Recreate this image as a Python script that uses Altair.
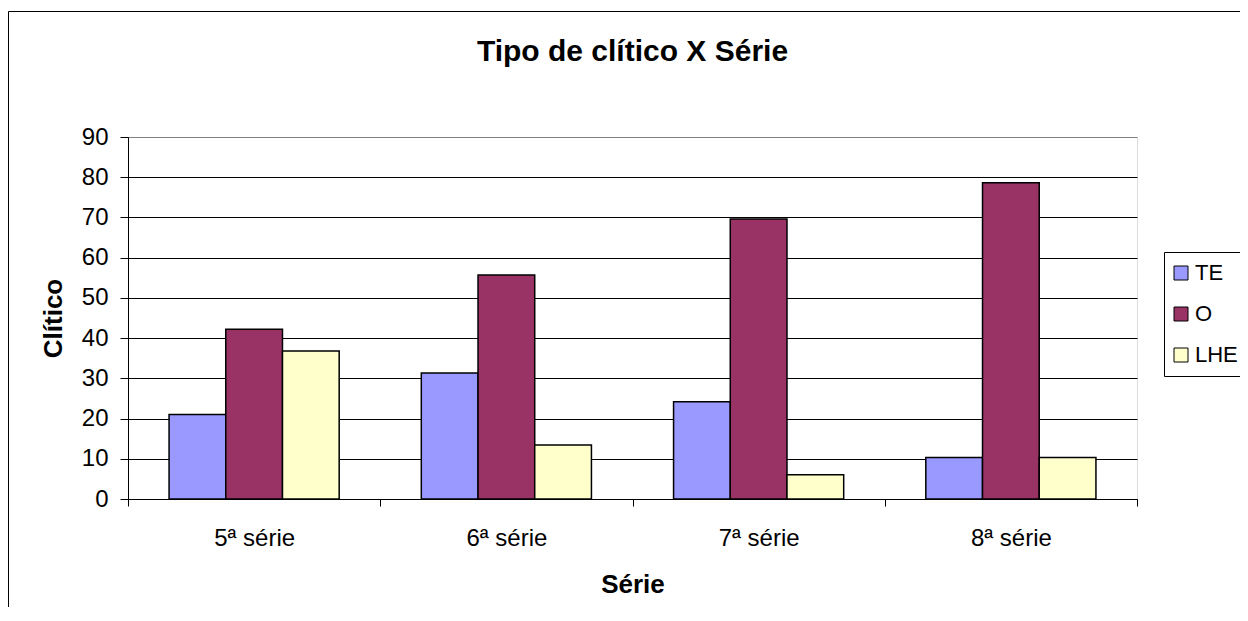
import altair as alt
import pandas as pd

categories = ["5ª série", "6ª série", "7ª série", "8ª série"]
series = ["TE", "O", "LHE"]
te_values = [21.0, 31.3, 24.2, 10.3]
o_values = [42.2, 55.7, 69.6, 78.6]
lhe_values = [36.8, 13.4, 6.0, 10.3]
colors = ["#9999FF", "#993366", "#FFFFCC"]
y_ticks = [0, 10, 20, 30, 40, 50, 60, 70, 80, 90]

rows = []
for name, vals in zip(series, [te_values, o_values, lhe_values]):
    for cat, v in zip(categories, vals):
        rows.append({"categoria": cat, "serie": name, "valor": v})
df = pd.DataFrame(rows)

FONT = "Liberation Sans"

bars = alt.Chart(df).mark_bar(stroke="black", strokeWidth=1.5).encode(
    x=alt.X(
        "categoria:N",
        sort=categories,
        scale=alt.Scale(paddingInner=0, paddingOuter=0),
        axis=alt.Axis(
            title="Série",
            labelAngle=0,
            labelFont=FONT,
            labelFontSize=24,
            labelColor="black",
            labelBaseline="alphabetic",
            labelPadding=39,
            tickSize=7,
            tickColor="black",
            tickBand="extent",
            domainColor="black",
            grid=False,
            titleFont=FONT,
            titleFontSize=26,
            titleFontWeight="bold",
            titleColor="black",
            titleBaseline="alphabetic",
            titleY=93,
        ),
    ),
    xOffset=alt.XOffset(
        "serie:N", sort=series, scale=alt.Scale(paddingInner=0, paddingOuter=0.724)
    ),
    y=alt.Y(
        "valor:Q",
        scale=alt.Scale(domain=[0, 90], nice=False),
        axis=alt.Axis(
            title="Clítico",
            values=y_ticks,
            tickSize=8,
            tickColor="black",
            labelPadding=12,
            labelFont=FONT,
            labelFontSize=24,
            labelColor="black",
            domainColor="black",
            grid=True,
            gridColor={"condition": {"test": "datum.value === 90", "value": "#808080"}, "value": "black"},
            gridWidth=1,
            titleFont=FONT,
            titleFontSize=26,
            titleFontWeight="bold",
            titleColor="black",
            titleAngle=270,
            titleAlign="center",
            titleBaseline="alphabetic",
            titleX=-67,
            titleY=181,
        ),
    ),
    color=alt.Color(
        "serie:N",
        sort=series,
        scale=alt.Scale(domain=series, range=colors),
        legend=alt.Legend(
            title=None,
            orient="none",
            legendX=1036,
            legendY=115,
            fillColor="white",
            strokeColor="black",
            padding=10,
            symbolType="square",
            symbolSize=196,
            symbolOffset=-4,
            symbolStrokeColor="black",
            symbolStrokeWidth=1,
            symbolOpacity=1,
            labelFont=FONT,
            labelFontSize=22,
            labelColor="black",
            labelOffset=3,
            rowPadding=19,
        ),
    ),
)

frame_df = pd.DataFrame({"k": [0]})
left_line = alt.Chart(frame_df).mark_rule(color="black", strokeWidth=1).encode(
    x=alt.value(-119.5), y=alt.value(-125.5), y2=alt.value(470)
)
top_line = alt.Chart(frame_df).mark_rule(color="black", strokeWidth=1).encode(
    x=alt.value(-119.5), x2=alt.value(1125), y=alt.value(-125.5)
)

chart = (
    alt.layer(bars, left_line, top_line)
    .properties(
        width=1009,
        height=362,
        autosize=alt.AutoSizeParams(type="none"),
        padding={"left": 120, "top": 129, "right": 103, "bottom": 109},
        title=alt.TitleParams(
            "Tipo de clítico X Série",
            font=FONT,
            fontSize=30,
            fontWeight="bold",
            color="black",
            anchor="middle",
            frame="group",
            baseline="alphabetic",
            offset=0,
            dy=80,
        ),
    )
    .configure_view(fill="#C0C0C0", stroke="#808080", strokeWidth=1)
    .configure(background="white")
)

chart.save("out.html", embed_options={"renderer": "svg", "actions": False})
